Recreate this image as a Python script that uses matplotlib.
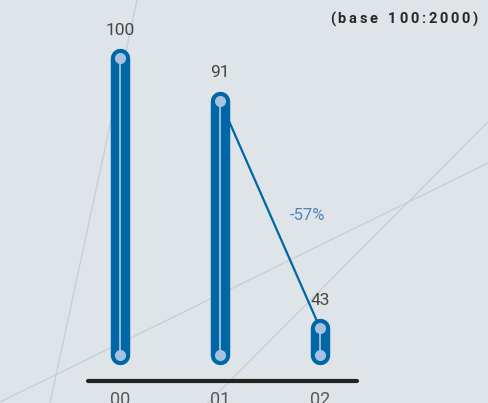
import matplotlib
matplotlib.use("Agg")
import matplotlib.pyplot as plt
from matplotlib.lines import Line2D

# index values, base 100 in 2000
years = ["00", "01", "02"]
values = [100, 91, 43]
floor = [37.4, 37.4, 37.4]
change_label = "-57%"
note = "(base 100:2000)"

bg = "#dfe4e9"
blue = "#0067a7"
light = "#a6c1e2"

plt.rcParams["font.family"] = ["Roboto", "DejaVu Sans"]

fig = plt.figure(figsize=(4.88, 4.03), dpi=100, facecolor=bg)
ax = fig.add_axes([0, 0, 1, 1])
ax.set_facecolor(bg)
ax.set_xlim(-1.2, 3.68)
ax.set_ylim(27.17, 112.24)
ax.axis("off")

# thin background rules
for (x0, y0), (x1, y1) in [((137, 0), (50, 403)), ((0, 402), (488, 163)), ((208, 403), (488, 122))]:
    fig.add_artist(Line2D([x0 / 488, x1 / 488], [1 - y0 / 403, 1 - y1 / 403],
                          transform=fig.transFigure, color="#c6cdd7", lw=0.9, zorder=0))

xs = list(range(len(values)))

# line linking the last two tops
ax.plot(xs[1:], values[1:], color=blue, lw=1.6, zorder=2)

for x, lo, hi in zip(xs, floor, values):
    ax.plot([x, x], [lo, hi], color=blue, lw=14, solid_capstyle="round", zorder=3)
    ax.plot([x, x], [lo, hi], color=light, lw=1.3, zorder=4)
    ax.plot([x, x], [lo, hi], "o", color=light, ms=8, mec="none", zorder=5)
    ax.text(x, hi + 5.9, str(hi), ha="center", va="center", fontsize=12.5,
            color="#454545")

ax.text(1.88, 66.8, change_label, ha="center", va="center", fontsize=12,
        color="#4d85bb")

# baseline
ax.plot([-0.32, 2.37], [31.81, 31.81], color="#232323", lw=3, solid_capstyle="round", zorder=3)
for x, lab in zip(xs, years):
    ax.text(x, 29.6, lab, ha="center", va="top", fontsize=13,
            color="#575757")

# spaced-out note, right aligned
fig.canvas.draw()
r = fig.canvas.get_renderer()
x_px = 478
for ch in reversed(note):
    t = fig.text(x_px / 488, 1 - 19 / 403, ch, ha="right", va="center",
                 fontsize=10.5, fontweight="bold", color="#262626")
    w = t.get_window_extent(r).width if ch != " " else 4.5
    x_px -= w + 2.8

fig.savefig("out.png", dpi=100, facecolor=bg)
